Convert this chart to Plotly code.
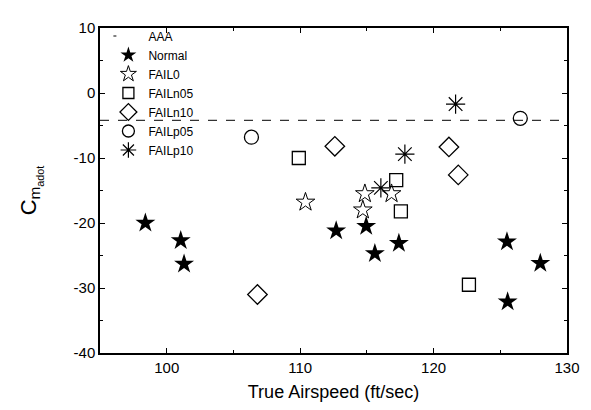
import plotly.graph_objects as go

aaa_x = [95, 130]
aaa_y = [-4.2, -4.2]

normal_x = [98.4, 101.05, 101.3, 112.7, 114.95, 115.6, 117.4, 125.5, 125.55, 128.0]
normal_y = [-20.0, -22.7, -26.3, -21.2, -20.5, -24.7, -23.1, -22.9, -32.1, -26.2]

fail0_x = [110.4, 114.85, 114.7, 116.85]
fail0_y = [-16.8, -15.5, -18.0, -15.5]

failn05_x = [109.9, 117.2, 117.55, 122.65]
failn05_y = [-10.0, -13.4, -18.2, -29.5]

failn10_x = [106.8, 112.6, 121.15, 121.85]
failn10_y = [-31.0, -8.2, -8.3, -12.6]

failp05_x = [106.35, 126.5]
failp05_y = [-6.8, -3.9]

failp10_x = [116.05, 117.85, 121.65]
failp10_y = [-14.6, -9.4, -1.7]

x_ticks = [100, 110, 120, 130]
y_ticks = [-40, -30, -20, -10, 0, 10]

series = [
    ("Normal", normal_x, normal_y, "star", 15, 12, 0),
    ("FAIL0", fail0_x, fail0_y, "star-open", 14, 12, 1),
    ("FAILn05", failn05_x, failn05_y, "square-open", 13, 11, 1.3),
    ("FAILn10", failn10_x, failn10_y, "diamond-open", 15, 13, 1.3),
    ("FAILp05", failp05_x, failp05_y, "circle-open", 14, 12, 1.3),
    ("FAILp10", failp10_x, failp10_y, "asterisk-open", 16, 13, 1.2),
]

fig = go.Figure()
fig.add_trace(go.Scatter(x=aaa_x, y=aaa_y, mode="lines", name="AAA",
                         line=dict(color="black", width=1, dash="dash"),
                         showlegend=False))
# legend entry for AAA: short dash
fig.add_trace(go.Scatter(x=[None], y=[None], mode="lines", name="AAA",
                         line=dict(color="black", width=1, dash="3px,30px")))

for name, xs, ys, sym, size, lsize, lw in series:
    fig.add_trace(go.Scatter(x=xs, y=ys, mode="markers", name=name, showlegend=False,
                             marker=dict(symbol=sym, size=size, color="black",
                                         line=dict(width=lw, color="black"))))
    fig.add_trace(go.Scatter(x=[None], y=[None], mode="markers", name=name,
                             marker=dict(symbol=sym, size=lsize, color="black",
                                         line=dict(width=lw if lw else 0, color="black"))))

axis_common = dict(showgrid=False, zeroline=False, showline=True, linecolor="black",
                   linewidth=1.5, mirror="allticks", ticks="inside", ticklen=5,
                   tickcolor="black", tickwidth=1,
                   tickfont=dict(family="Liberation Sans, Arial", size=15, color="black"))

fig.update_xaxes(range=[95, 130], tickvals=x_ticks, ticktext=[str(v) for v in x_ticks],
                 minor=dict(dtick=5, ticks="inside", ticklen=3, tickcolor="black"),
                 title=dict(text="True Airspeed (ft/sec)",
                            font=dict(family="Liberation Sans, Arial", size=18, color="black"),
                            standoff=11),
                 **axis_common)
fig.update_yaxes(range=[-40, 10], tickvals=y_ticks, ticktext=[str(v) for v in y_ticks],
                 minor=dict(dtick=5, ticks="inside", ticklen=3, tickcolor="black"),
                 title=dict(text="C<sub>m<sub>adot</sub></sub>",
                            font=dict(family="Liberation Sans, Arial", size=22, color="black"),
                            standoff=31),
                 **axis_common)

fig.update_layout(
    width=583, height=402,
    margin=dict(l=92, r=23, t=11, b=55),
    plot_bgcolor="white", paper_bgcolor="white",
    showlegend=True,
    legend=dict(x=0.018, y=1.02, xanchor="left", yanchor="top",
                bgcolor="rgba(0,0,0,0)", borderwidth=0,
                font=dict(family="Liberation Sans, Arial", size=12, color="black"),
                itemwidth=30, tracegroupgap=0),
)

fig.write_html("out.html")
